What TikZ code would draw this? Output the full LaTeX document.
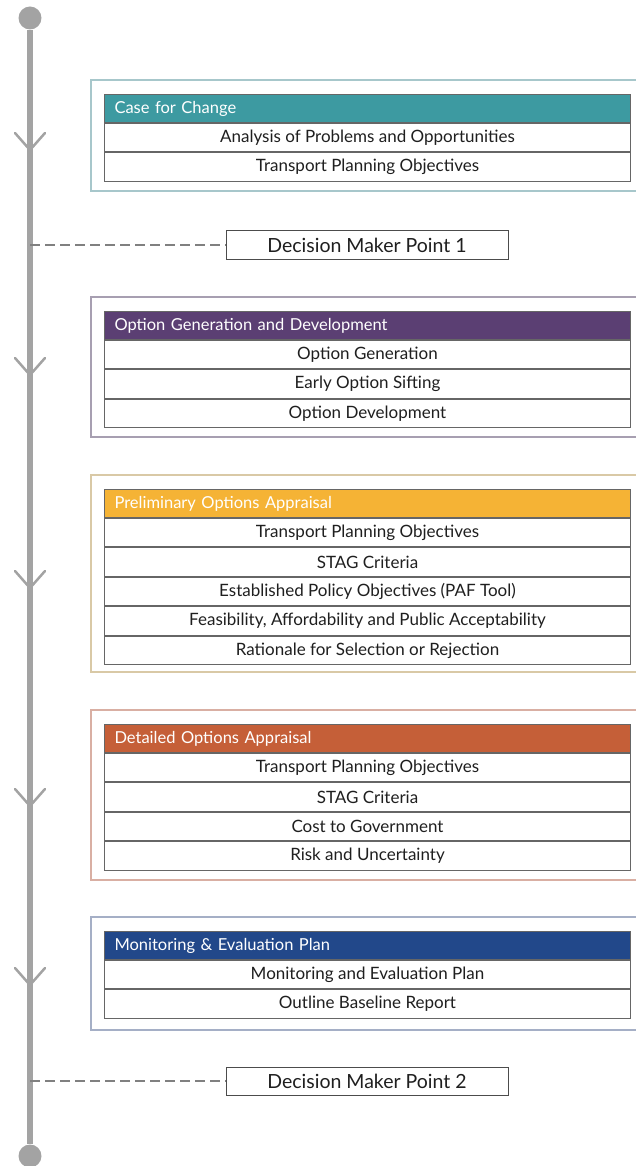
\documentclass[tikz,border=0pt]{standalone}
\usepackage{fontspec}
\setmainfont{Lato}
\usetikzlibrary{positioning}

\definecolor{lineGray}{HTML}{A3A3A3}
\definecolor{tealHead}{HTML}{3D9AA1}
\definecolor{purpleHead}{HTML}{5B3F73}
\definecolor{yellowHead}{HTML}{F5B335}
\definecolor{orangeHead}{HTML}{C55F38}
\definecolor{blueHead}{HTML}{22488A}
\definecolor{tealFrame}{HTML}{A7C7CB}
\definecolor{purpleFrame}{HTML}{A79FB1}
\definecolor{yellowFrame}{HTML}{D9C9A6}
\definecolor{orangeFrame}{HTML}{D9AFA3}
\definecolor{blueFrame}{HTML}{A5AFC6}

\tikzset{
  head/.style={draw=black!60, line width=1pt, fill=#1, text=white, anchor=north west,
    minimum width=526, minimum height=28, text width=506, inner xsep=10, inner ysep=0,
    align=left, font=\fontsize{16.5}{16.5}\selectfont},
  row/.style={draw=black!60, line width=1pt, fill=white, text=black!88, anchor=north,
    minimum width=526, minimum height=28.4, inner sep=0, font=\fontsize{17}{17}\selectfont},
  frame/.style={draw=#1, line width=1.5pt},
  dot/.style={circle, fill=lineGray, minimum size=23, inner sep=0},
  decision/.style={draw=black!70, line width=1pt, fill=white, minimum width=282, minimum height=28,
    inner sep=0, text=black!88, font=\fontsize{19.5}{19.5}\selectfont},
  vee/.style={draw=lineGray, line width=2.5pt, line cap=round},
}

\begin{document}
\begin{tikzpicture}[x=1pt, y=-1pt]
    \useasboundingbox (0,0) rectangle (635,1166);

    % timeline
    \node[dot] (start) at (30,18) {};
    \node[dot] (finish) at (30,1156) {};
    \draw[lineGray, line width=5.5pt] (start) -- (finish);
    \foreach \y in {150,375,588,806,985}
        \draw[vee] (15,\y-17) -- (30,\y) -- (45,\y-17);

    % decision points
    \coordinate (dp1) at (30,245);
    \coordinate (dp2) at (30,1081);
    \node[decision] (dmp1) at (367,245) {Decision Maker Point 1};
    \node[decision] (dmp2) at (367,1081) {Decision Maker Point 2};
    \draw[black!50, line width=2pt, dash pattern=on 10pt off 5pt] (dp1) -- (dmp1);
    \draw[black!50, line width=2pt, dash pattern=on 10pt off 5pt] (dp2) -- (dmp2);

    % case for change
    \draw[frame=tealFrame] (91,80) rectangle (645,191);
    \node[head=tealHead] (case) at (104,94) {Case for Change};
    \node[row, below=0pt of case] (case1) {Analysis of Problems and Opportunities};
    \node[row, below=0pt of case1] (case2) {Transport Planning Objectives};

    % option generation
    \draw[frame=purpleFrame] (91,297) rectangle (645,437);
    \node[head=purpleHead] (opt) at (104,311) {Option Generation and Development};
    \node[row, below=0pt of opt] (opt1) {Option Generation};
    \node[row, below=0pt of opt1] (opt2) {Early Option Sifting};
    \node[row, below=0pt of opt2] (opt3) {Option Development};

    % preliminary appraisal
    \draw[frame=yellowFrame] (91,475) rectangle (645,672);
    \node[head=yellowHead] (pre) at (104,489) {Preliminary Options Appraisal};
    \node[row, below=0pt of pre] (pre1) {Transport Planning Objectives};
    \node[row, below=0pt of pre1] (pre2) {STAG Criteria};
    \node[row, below=0pt of pre2] (pre3) {Established Policy Objectives (PAF Tool)};
    \node[row, below=0pt of pre3] (pre4) {Feasibility, Affordability and Public Acceptability};
    \node[row, below=0pt of pre4] (pre5) {Rationale for Selection or Rejection};

    % detailed appraisal
    \draw[frame=orangeFrame] (91,710) rectangle (645,880);
    \node[head=orangeHead] (det) at (104,724) {Detailed Options Appraisal};
    \node[row, below=0pt of det] (det1) {Transport Planning Objectives};
    \node[row, below=0pt of det1] (det2) {STAG Criteria};
    \node[row, below=0pt of det2] (det3) {Cost to Government};
    \node[row, below=0pt of det3] (det4) {Risk and Uncertainty};

    % monitoring
    \draw[frame=blueFrame] (91,917) rectangle (645,1030);
    \node[head=blueHead] (mon) at (104,931) {Monitoring \& Evaluation Plan};
    \node[row, below=0pt of mon] (mon1) {Monitoring and Evaluation Plan};
    \node[row, below=0pt of mon1] (mon2) {Outline Baseline Report};
\end{tikzpicture}
\end{document}
